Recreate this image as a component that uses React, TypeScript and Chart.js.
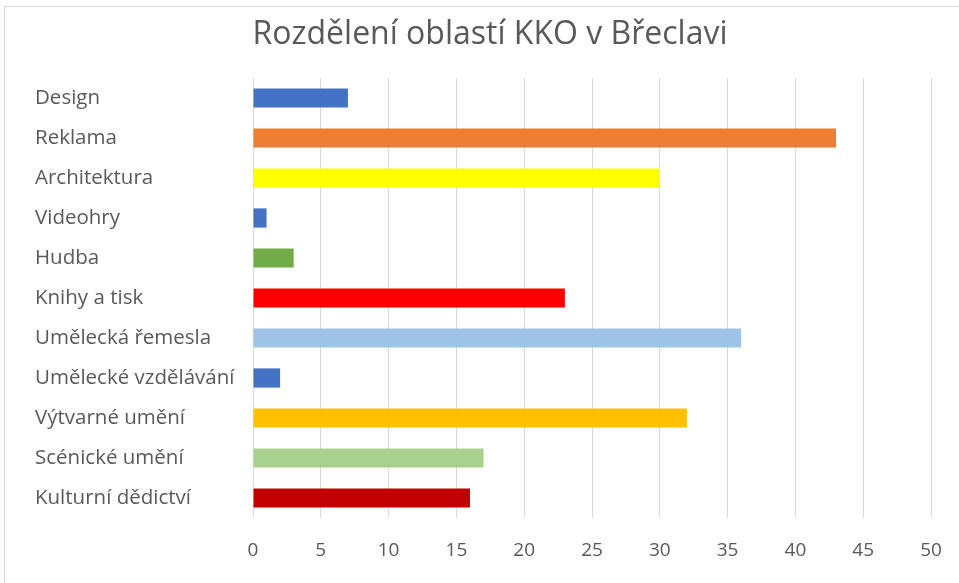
import React, { useEffect, useRef } from "react";
import { Chart, registerables } from "chart.js";

Chart.register(...registerables);

const TITLE = "Rozdělení oblastí KKO v Břeclavi";
const categories = [
  "Design",
  "Reklama",
  "Architektura",
  "Videohry",
  "Hudba",
  "Knihy a tisk",
  "Umělecká řemesla",
  "Umělecké vzdělávání",
  "Výtvarné umění",
  "Scénické umění",
  "Kulturní dědictví",
];
const values = [7, 43, 30, 1, 3, 23, 36, 2, 32, 17, 16];
const barColors = [
  "#4472C4",
  "#ED7D31",
  "#FFFF00",
  "#4472C4",
  "#70AD47",
  "#FF0000",
  "#9DC3E6",
  "#4472C4",
  "#FFC000",
  "#A9D18E",
  "#C00000",
];
const xMin = 0;
const xMax = 50;
const xStep = 5;

const FONT = "'Open Sans', sans-serif";
const TEXT = "#595959";

const centeredTitle = {
  id: "centeredTitle",
  afterDraw(chart: any) {
    const ctx = chart.ctx;
    ctx.save();
    ctx.fillStyle = TEXT;
    ctx.font = `normal 32px ${FONT}`;
    ctx.textAlign = "center";
    ctx.textBaseline = "middle";
    ctx.fillText(TITLE, chart.width / 2, 28.5);
    ctx.restore();
  },
};

export default function App() {
  const ref = useRef<HTMLCanvasElement | null>(null);
  useEffect(() => {
    if (!ref.current) return;
    const chart = new Chart(ref.current, {
      type: "bar",
      data: {
        labels: categories,
        datasets: [
          {
            data: values,
            backgroundColor: barColors,
            borderWidth: 0,
            categoryPercentage: 1,
            barPercentage: 0.48,
          },
        ],
      },
      options: {
        indexAxis: "y",
        animation: false,
        responsive: false,
        devicePixelRatio: 1,
        layout: { padding: { left: 31, right: 45, top: 72, bottom: 25 } },
        plugins: {
          legend: { display: false },
          tooltip: { enabled: false },
          title: { display: false },
        },
        scales: {
          x: {
            min: xMin,
            max: xMax,
            ticks: {
              stepSize: xStep,
              color: TEXT,
              font: { family: FONT, size: 19 },
              padding: 21,
            },
            grid: { color: "#d9d9d9", drawTicks: false, lineWidth: 1 },
            border: { display: false },
            afterFit: (s: any) => {
              s.height = 40;
            },
          },
          y: {
            ticks: {
              crossAlign: "far",
              color: TEXT,
              font: { family: FONT, size: 20.5 },
            },
            grid: { display: false },
            border: { display: false },
            afterFit: (s: any) => {
              s.width = 218;
            },
          },
        },
      },
      plugins: [centeredTitle],
    });
    return () => chart.destroy();
  }, []);

  return (
    <div
      style={{
        position: "fixed",
        left: 0,
        top: 0,
        width: 959,
        height: 583,
        overflow: "hidden",
        background: "#fff",
      }}
    >
      <div
        style={{
          position: "absolute",
          left: 4,
          top: 6,
          width: 1000,
          height: 1000,
          borderLeft: "1px solid #d9d9d9",
          borderTop: "1px solid #d9d9d9",
        }}
      />
      <canvas
        ref={ref}
        width={972}
        height={577}
        style={{ position: "absolute", left: 4, top: 6, width: 972, height: 577 }}
      />
    </div>
  );
}
